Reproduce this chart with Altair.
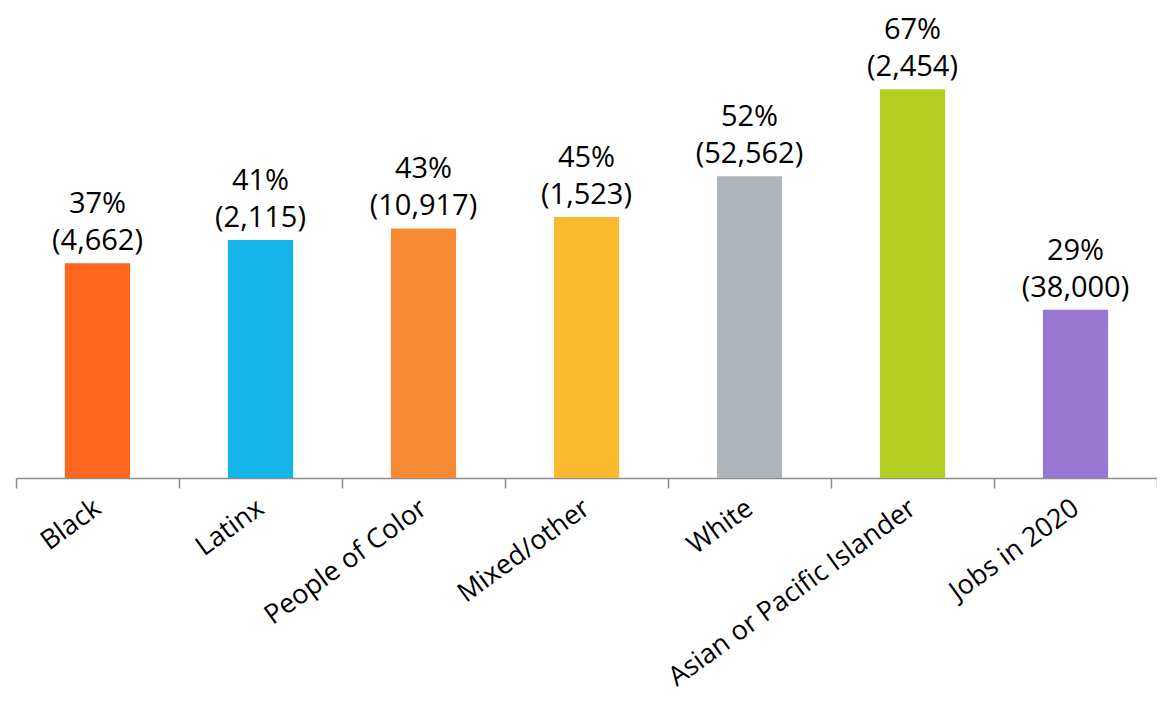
import altair as alt
import pandas as pd

categories = ["Black", "Latinx", "People of Color", "Mixed/other", "White",
              "Asian or Pacific Islander", "Jobs in 2020"]
percents = [37, 41, 43, 45, 52, 67, 29]
counts = ["4,662", "2,115", "10,917", "1,523", "52,562", "2,454", "38,000"]
colors = ["#FF671F", "#13B5EA", "#F68B33", "#FBB92F", "#ADB5BA", "#B5CE22", "#9678D3"]

df = pd.DataFrame({
    "category": categories,
    "pct": percents,
    "pct_label": [f"{p}%" for p in percents],
    "count_label": [f"({c})" for c in counts],
})

FONT = "Open Sans"
FS = 29

x = alt.X("category:N", sort=categories,
          scale=alt.Scale(paddingInner=0, paddingOuter=0),
          axis=alt.Axis(title=None, labelAngle=-36, labelAlign="right",
                        labelBaseline="middle", labelPadding=17,
                        labelFontSize=27, labelFont=FONT, labelColor="#000000",
                        tickBand="extent", tickSize=10, tickColor="#8c8c8c",
                        tickWidth=1.5, domainColor="#8c8c8c", domainWidth=1.5,
                        labelLimit=400))
y = alt.Y("pct:Q", scale=alt.Scale(domain=[0, 81], nice=False), axis=None)

bars = alt.Chart(df).mark_bar(width=alt.RelativeBandSize(0.4)).encode(
    x=x, y=y,
    color=alt.Color("category:N", sort=categories,
                    scale=alt.Scale(domain=categories, range=colors), legend=None),
)

xt = alt.X("category:N", sort=categories)
count_text = alt.Chart(df).mark_text(baseline="bottom", dy=-7, fontSize=FS, font=FONT,
                                     color="#000000").encode(
    x=xt, y=y, text="count_label:N"
)
pct_text = alt.Chart(df).mark_text(baseline="bottom", dy=-44, fontSize=FS, font=FONT,
                                   color="#000000").encode(
    x=xt, y=y, text="pct_label:N"
)

chart = (bars + count_text + pct_text).properties(
    width=1141, height=470,
    autosize=alt.AutoSizeParams(type="none"),
    padding={"left": 8, "top": 0, "right": 0, "bottom": 215},
).configure_view(stroke=None)

chart.save("out.html", embed_options={"renderer": "svg", "actions": False})
